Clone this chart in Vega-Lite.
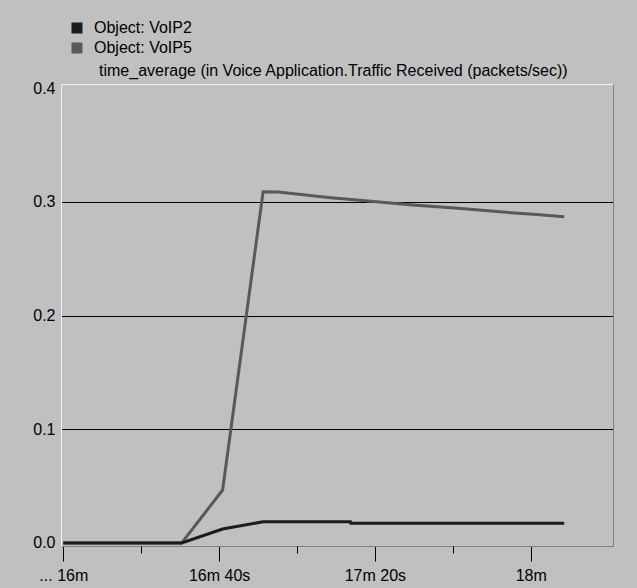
{
  "$schema": "https://vega.github.io/schema/vega-lite/v6.json",
  "width": 552,
  "height": 462,
  "autosize": {"type": "none"},
  "padding": {"left": 61, "top": 84, "right": 24, "bottom": 42},
  "background": "#c0c0c0",
  "config": {
    "view": {"stroke": "#808080", "strokeWidth": 1, "fill": "#c0c0c0"},
    "font": "Liberation Sans",
    "axis": {"labelFont": "Liberation Sans", "labelFontSize": 16, "labelColor": "#000000", "titleFontSize": 16}
  },
  "title": {
    "text": "time_average (in Voice Application.Traffic Received (packets/sec))",
    "anchor": "start",
    "frame": "group",
    "dx": 38,
    "dy": 64,
    "offset": 5,
    "fontSize": 16,
    "fontWeight": "normal",
    "font": "Liberation Sans",
    "color": "#000000"
  },
  "data": {
    "values": [
      {"series": "Object: VoIP5", "t": 960, "v": 0},
      {"series": "Object: VoIP5", "t": 990.4, "v": 0},
      {"series": "Object: VoIP5", "t": 1000.9, "v": 0.0466},
      {"series": "Object: VoIP5", "t": 1011.3, "v": 0.309},
      {"series": "Object: VoIP5", "t": 1015.2, "v": 0.3087},
      {"series": "Object: VoIP5", "t": 1028, "v": 0.304},
      {"series": "Object: VoIP5", "t": 1037.5, "v": 0.301},
      {"series": "Object: VoIP5", "t": 1049.8, "v": 0.2973},
      {"series": "Object: VoIP5", "t": 1061.3, "v": 0.2944},
      {"series": "Object: VoIP5", "t": 1072.1, "v": 0.2914},
      {"series": "Object: VoIP5", "t": 1081.5, "v": 0.2889},
      {"series": "Object: VoIP5", "t": 1088.6, "v": 0.287},
      {"series": "Object: VoIP2", "t": 960, "v": 0},
      {"series": "Object: VoIP2", "t": 990.4, "v": 0},
      {"series": "Object: VoIP2", "t": 1000.9, "v": 0.0123},
      {"series": "Object: VoIP2", "t": 1011.3, "v": 0.0187},
      {"series": "Object: VoIP2", "t": 1033.7, "v": 0.0187},
      {"series": "Object: VoIP2", "t": 1033.8, "v": 0.0173},
      {"series": "Object: VoIP2", "t": 1088.6, "v": 0.0173}
    ]
  },
  "layer": [
    {
      "mark": {"type": "line", "strokeWidth": 3, "clip": true},
      "encoding": {
        "x": {
          "field": "t", "type": "quantitative",
          "scale": {"domain": [959.41, 1101.13], "nice": false, "zero": false},
          "axis": {
            "orient": "bottom",
            "title": null,
            "values": [960, 1000, 1040, 1080],
            "labelExpr": "datum.value == 960 ? '... 16m' : datum.value == 1000 ? '16m 40s' : datum.value == 1040 ? '17m 20s' : '18m'",
            "tickSize": 15, "tickColor": "#000000", "tickWidth": 1,
            "domainColor": "#808080", "domainWidth": 1,
            "grid": false, "labelPadding": 6, "labelFlush": false
          }
        },
        "y": {
          "field": "v", "type": "quantitative",
          "scale": {"domain": [-0.00264, 0.40381], "nice": false, "zero": false},
          "axis": {
            "orient": "left",
            "title": null,
            "values": [0, 0.1, 0.2, 0.3, 0.4],
            "format": ".1f",
            "ticks": false,
            "labelPadding": 6,
            "domainColor": "#f2f2f2", "domainWidth": 1,
            "grid": true,
            "gridColor": {"condition": {"test": "datum.value > 0.05 && datum.value < 0.35", "value": "#000000"}, "value": "transparent"},
            "gridWidth": 1.2, "gridOpacity": 1, "labelFlush": false
          }
        },
        "color": {
          "field": "series", "type": "nominal",
          "scale": {"domain": ["Object: VoIP2", "Object: VoIP5"], "range": ["#1c1c1c", "#595959"]},
          "legend": {
            "orient": "none",
            "legendX": 8,
            "legendY": -64,
            "title": null,
            "padding": 0,
            "symbolType": "square",
            "symbolSize": 121,
            "symbolStrokeWidth": 0,
            "labelFont": "Liberation Sans",
            "labelFontSize": 16,
            "labelColor": "#000000",
            "labelOffset": 9,
            "rowPadding": 4,
            "encode": {
              "symbols": {"update": {"fill": {"scale": "color", "field": "value"}, "fillOpacity": {"value": 1}, "strokeWidth": {"value": 0}}}
            }
          }
        }
      }
    },
    {
      "mark": {"type": "line", "opacity": 0},
      "encoding": {
        "x": {
          "field": "t", "type": "quantitative",
          "axis": {"orient": "bottom", "title": null, "values": [980, 1020, 1060], "labels": false, "domain": false, "grid": false, "tickSize": 7, "tickColor": "#000000", "tickWidth": 1}
        },
        "y": {"field": "v", "type": "quantitative", "axis": null}
      }
    },
    {
      "mark": {"type": "line", "opacity": 0},
      "encoding": {
        "x": {
          "field": "t", "type": "quantitative",
          "axis": {"orient": "top", "title": null, "labels": false, "ticks": false, "grid": false, "domainColor": "#f2f2f2", "domainWidth": 1}
        },
        "y": {
          "field": "v", "type": "quantitative",
          "axis": {"orient": "right", "title": null, "labels": false, "ticks": false, "grid": false, "domainColor": "#808080", "domainWidth": 1}
        }
      }
    }
  ],
  "resolve": {"axis": {"x": "independent", "y": "independent"}}
}
